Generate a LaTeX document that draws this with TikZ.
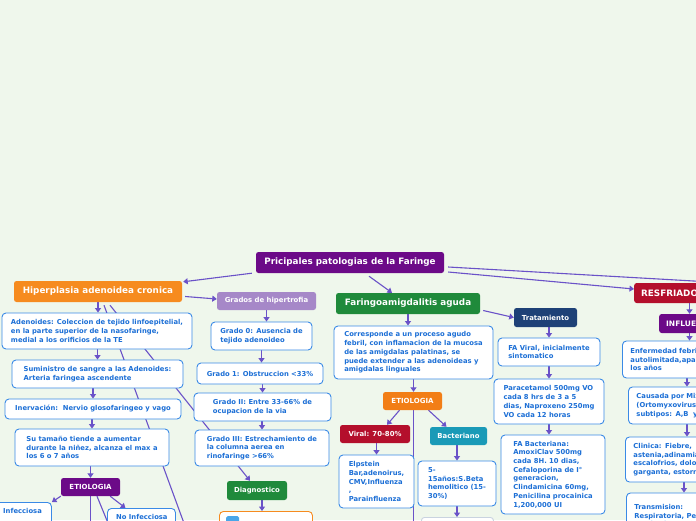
\documentclass[tikz,border=0pt]{standalone}
\usepackage{fontspec}
\setmainfont{DejaVu Sans}
\usetikzlibrary{arrows.meta}
\pgfdeclarelayer{bgl}
\pgfdeclarelayer{edgel}
\pgfsetlayers{bgl,edgel,main}
\definecolor{bgc}{HTML}{EFF7EC}
\definecolor{linec}{HTML}{6A52C8}
\definecolor{bluebd}{HTML}{3A8AE6}
\definecolor{bluetx}{HTML}{1C6FD6}
\definecolor{purp}{HTML}{6C0A88}
\definecolor{orng}{HTML}{F68B1F}
\definecolor{orng2}{HTML}{F27E16}
\definecolor{lav}{HTML}{A688C8}
\definecolor{grn}{HTML}{1F8A3B}
\definecolor{dblue}{HTML}{1E4177}
\definecolor{redc}{HTML}{B40F2C}
\definecolor{tealc}{HTML}{1A9AB7}
\definecolor{grayb}{HTML}{C9D3E0}
\definecolor{iconb}{HTML}{49A6E9}
\tikzset{
 conn/.style={draw=linec, line width=1.1pt},
 arr/.style={conn, -{Triangle[width=6pt,length=4.5pt]}},
 wbox/.style={draw=bluebd, fill=white, rounded corners=4pt, line width=0.9pt, text=bluetx, font=\fontsize{6.8}{8.7}\selectfont\bfseries, align=left, inner sep=0pt},
 cbox/.style={rounded corners=2.5pt, text=white, font=\fontsize{6.9}{8}\selectfont\bfseries, inner sep=0pt},
 big/.style={font=\fontsize{8.8}{10}\selectfont\bfseries},
 wh/.style 2 args={minimum width=#1pt, minimum height=#2pt},
 txt/.style={text=bluetx, font=\fontsize{6.8}{8.7}\selectfont\bfseries, inner sep=0pt, align=left},
 rbox/.style={wbox, anchor=west, text width=110pt, inner xsep=8pt},
}
\begin{document}
\begin{tikzpicture}[x=1pt,y=-1pt]
\useasboundingbox (0,0) rectangle (696,520);
\begin{pgfonlayer}{bgl}\fill[bgc] (0,0) rectangle (696,520);\end{pgfonlayer}
\coordinate (offR) at (720,282.5);
\coordinate (offB1) at (192,545);
\coordinate (offE1) at (90.5,545);
\coordinate (offE2) at (117,545);
\coordinate (offE3) at (413.5,545);
\coordinate (r1) at (689.5,0);
\coordinate (r2) at (687,0);
\coordinate (r3) at (684,0);
\begin{scope}
\clip (0,0) rectangle (696,520);
% top level
\node[cbox, fill=purp, big, wh={188}{21}] (root) at (350,262.5) {Pricipales patologias de la Faringe};
\node[cbox, fill=orng, big, wh={168}{21}] (hip) at (98,291.5) {Hiperplasia adenoidea cronica};
\node[cbox, fill=lav, wh={99}{18}] (grad) at (266.5,301) {Grados de hipertrofia};
\node[cbox, fill=grn, big, wh={144}{21}] (far) at (408,303.5) {Faringoamigdalitis aguda};
\node[cbox, fill=redc, big, anchor=west, minimum height=20pt, inner xsep=7pt] (resf) at (634,293) {RESFRIADO COMUN};
\node[cbox, fill=dblue, wh={63}{19}] (trat) at (545.5,317.5) {Tratamiento};
\node[cbox, fill=purp, font=\fontsize{7.5}{9}\selectfont\bfseries, anchor=west, minimum height=19pt, inner xsep=7pt] (infl) at (659,323.5) {INFLUENZA};
% left column
\node[wbox, wh={190}{36}] (aden) at (97,331) {Adenoides: Coleccion de tejido linfoepitelial,\\en la parte superior de la nasofaringe,\\medial a los orificios de la TE};
\node[wbox, wh={171}{28}] (sumi) at (97.5,374) {Suministro de sangre a las Adenoides:\\Arteria faringea ascendente};
\node[wbox, wh={176}{20}] (inerv) at (93,409) {Inervación:\ \ Nervio glosofaringeo y vago};
\node[wbox, wh={154}{37}] (tam) at (92,447.5) {Su tamaño tiende a aumentar\\durante la niñez, alcanza el max a\\los 6 o 7 años};
\node[cbox, fill=purp, wh={59}{18}, font=\fontsize{7}{8}\selectfont\bfseries] (etio1) at (90.5,487) {ETIOLOGIA};
\node[wbox, anchor=north west, wh={56}{34}] (infec) at (-5,502) {};
\node[txt, anchor=north west] (infect) at (3,508.5) {Infecciosa};
\node[wbox, anchor=north west, wh={68}{34}] (noinf) at (107,508) {};
\node[txt, anchor=north west] (noinft) at (116,514.5) {No Infecciosa};
% grados
\node[wbox, wh={101}{28}] (g0) at (261.5,336) {Grado 0: Ausencia de\\tejido adenoideo};
\node[wbox, wh={126}{21}] (g1) at (260,373.5) {Grado 1: Obstruccion <33\%};
\node[wbox, wh={137}{28}] (g2) at (262.5,407) {Grado II: Entre 33-66\% de\\ocupacion de la via};
\node[wbox, wh={134}{36}] (g3) at (262,448) {Grado III: Estrechamiento de\\la columna aerea en\\rinofaringe >66\%};
\node[cbox, fill=grn, wh={60}{19}] (diag) at (257,490.5) {Diagnostico};
\node[draw=orng, fill=white, rounded corners=4pt, line width=0.9pt, anchor=north west, wh={93}{34}, inner sep=0pt] (dbox) at (219,511) {};
\node[fill=iconb, rounded corners=1.5pt, anchor=north west, wh={13}{8}, inner sep=0pt] (dicon) at (226,516) {};
% faringo
\node[wbox, wh={159}{53}] (corr) at (413.5,352.5) {Corresponde a un proceso agudo\\febril, con inflamacion de la mucosa\\de las amigdalas palatinas, se\\puede extender a las adenoideas y\\amigdalas linguales};
\node[cbox, fill=orng2, wh={59}{18}, font=\fontsize{7}{8}\selectfont\bfseries] (etio2) at (412.5,401) {ETIOLOGIA};
\node[cbox, fill=redc, wh={70}{18}] (viral) at (375,434) {Viral: 70-80\%};
\node[cbox, fill=tealc, wh={57}{18}] (bact) at (458.5,436) {Bacteriano};
\node[wbox, wh={75}{53}] (elp) at (376.5,481.5) {Elpstein\\Bar,adenoirus,\\CMV,Influenza\\,\\Parainfluenza};
\node[wbox, wh={78}{45}] (s515) at (457,483.5) {5-\\15años:S.Beta\\hemolitico (15-\\30\%)};
\node[draw=grayb, fill=white, rounded corners=3pt, line width=0.9pt, anchor=north west, wh={72}{30}, inner sep=0pt] (s2) at (421,517) {};
% tratamiento
\node[wbox, wh={102}{28}] (favir) at (549,352) {FA Viral, inicialmente\\sintomatico};
\node[wbox, wh={110}{45}] (parac) at (549,401.5) {Paracetamol 500mg VO\\cada 8 hrs de 3 a 5\\dias, Naproxeno 250mg\\VO cada 12 horas};
\node[wbox, wh={104}{79}] (fabac) at (553,474.5) {FA Bacteriana:\\AmoxiClav 500mg\\cada 8H. 10 dias,\\Cefaloporina de I°\\generacion,\\Clindamicina 60mg,\\Penicilina procainica\\1,200,000 UI};
% resfriado
\node[rbox, minimum height=37pt] (enf) at (622,359.5) {Enfermedad febril y\\autolimitada,aparece todos\\los años};
\node[rbox, minimum height=37pt] (causa) at (628,405.5) {Causada por Mixovirus\\(Ortomyxovirus)\\subtipos: A,B\ \ y C};
\node[rbox, minimum height=45pt] (clin) at (625,459.5) {Clinica: Fiebre,\\astenia,adinamia,\\escalofrios, dolor de\\garganta, estornudos};
\node[rbox, minimum height=45pt] (trans) at (626,515.5) {Transmision:\\Respiratoria, Personal\\Incubacion: 1-2 dias};
\end{scope}
\begin{pgfonlayer}{edgel}
\begin{scope}
\clip (0,0) rectangle (696,520);
\draw[arr] ([xshift=-4pt]root.south west) -- ([xshift=1pt,yshift=-1pt]hip.north east);
\draw[arr] ([xshift=19pt,yshift=-3pt]root.south) -- ([xshift=-16pt]far.north);
\draw[arr] ([xshift=4pt,yshift=-9.5pt]root.east) -- ([yshift=4pt]resf.west);
\draw[conn] ([xshift=4pt,yshift=-4.5pt]root.east) -- (offR);
\draw[arr] ([xshift=3pt,yshift=-5pt]hip.east) -- ([yshift=2pt]grad.west);
\draw[arr] (hip.south) -- (hip.south |- aden.north);
\draw[arr] ([xshift=12pt,yshift=-3pt]hip.south) -- ([xshift=-7pt]diag.north);
\draw[conn] ([xshift=6pt,yshift=-3pt]hip.south) -- (offB1);
\draw[arr] (sumi.north |- aden.south) -- (sumi.north);
\draw[arr] (inerv.north |- sumi.south) -- (inerv.north);
\draw[arr] (tam.north |- inerv.south) -- (tam.north);
\draw[arr] (etio1.north |- tam.south) -- (etio1.north);
\draw[arr] (etio1.south west) -- (infec.north east);
\draw[arr] ([xshift=-10pt]etio1.south east) -- ([xshift=-16pt]noinf.north);
\draw[conn] (etio1.south) -- (offE1);
\draw[conn] ([xshift=6.5pt]etio1.south) -- (offE2);
\draw[arr] (grad.south) -- (grad.south |- g0.north);
\draw[arr] (g0.south) -- (g0.south |- g1.north);
\draw[arr] (g2.north |- g1.south) -- (g2.north);
\draw[arr] (g3.north |- g2.south) -- (g3.north);
\draw[arr] ([xshift=5pt]diag.south) -- ([xshift=5pt]diag.south |- dbox.north);
\draw[arr] (far.south) -- (far.south |- corr.north);
\draw[arr] ([xshift=3pt,yshift=-7pt]far.east) -- (trat.west);
\draw[arr] (corr.south) -- (corr.south |- etio2.north);
\draw[arr] ([xshift=-13pt]etio2.south) -- ([xshift=12pt]viral.north);
\draw[arr] ([xshift=16pt]etio2.south) -- ([xshift=-12pt]bact.north);
\draw[conn] ([xshift=1pt]etio2.south) -- (offE3);
\draw[arr] (elp.north |- viral.south) -- (elp.north);
\draw[arr] (s515.north |- bact.south) -- (s515.north);
\draw[arr] (s515.south) -- (s515.south |- s2.north);
\draw[arr] (favir.north |- trat.south) -- (favir.north);
\draw[arr] (parac.north |- favir.south) -- (parac.north);
\draw[arr] (parac.south) -- (parac.south |- fabac.north);
\draw[arr] (resf.south -| r1) -- (infl.north -| r1);
\draw[arr] (infl.south -| r1) -- (enf.north -| r1);
\draw[arr] (enf.south -| r2) -- (causa.north -| r2);
\draw[arr] (causa.south -| r2) -- (clin.north -| r2);
\draw[arr] (clin.south -| r3) -- (trans.north -| r3);
\end{scope}
\end{pgfonlayer}
\end{tikzpicture}
\end{document}
